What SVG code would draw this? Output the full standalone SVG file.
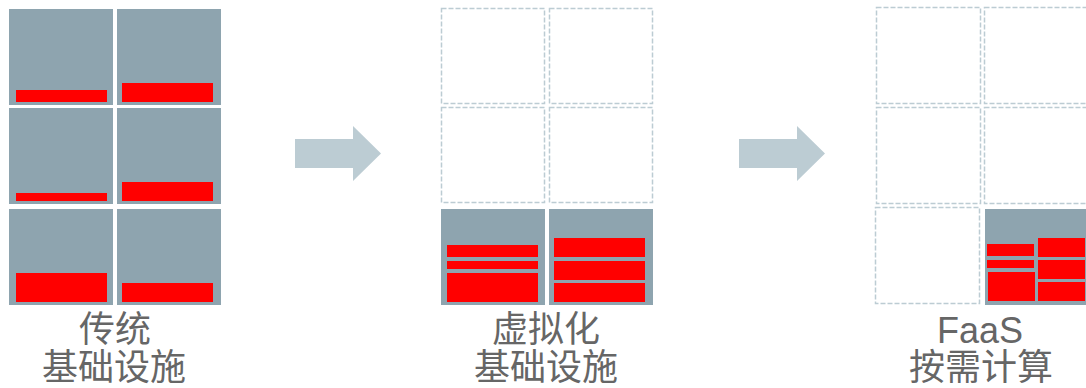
<svg xmlns="http://www.w3.org/2000/svg" width="1086" height="388" viewBox="0 0 1086 388">
<style>
.cell{fill:#8EA4AF}
.bar{fill:#FF0000}
.dash{fill:none;stroke:#BCCCD3;stroke-width:1.5;stroke-dasharray:5 2}
.arrow{fill:#BCCCD3}
.lbl{font-family:"Noto Sans CJK SC","Liberation Sans",sans-serif;font-size:36px;fill:#666666;text-anchor:middle}
.lat{font-family:"Liberation Sans",Arial,sans-serif}
</style>
<rect width="1086" height="388" fill="#ffffff"/>
<g id="traditional">
<rect class="cell" x="9" y="9" width="104" height="96"/>
<rect class="cell" x="117" y="9" width="104" height="96"/>
<rect class="cell" x="9" y="108" width="104" height="96"/>
<rect class="cell" x="117" y="108" width="104" height="96"/>
<rect class="cell" x="9" y="209" width="104" height="96"/>
<rect class="cell" x="117" y="209" width="104" height="96"/>
<rect class="bar" x="16" y="90" width="91" height="12"/>
<rect class="bar" x="122" y="83" width="91" height="19"/>
<rect class="bar" x="16" y="193" width="91" height="8"/>
<rect class="bar" x="122" y="182" width="91" height="19"/>
<rect class="bar" x="16" y="273" width="91" height="29"/>
<rect class="bar" x="122" y="283" width="91" height="19"/>
<text class="lbl" x="115" y="342">传统</text>
<text class="lbl" x="114" y="380">基础设施</text>
</g>
<g id="virtualized">
<rect class="dash" x="441.5" y="8.5" width="103" height="95"/>
<rect class="dash" x="549.5" y="8.5" width="103" height="95"/>
<rect class="dash" x="441.5" y="107.5" width="103" height="95"/>
<rect class="dash" x="549.5" y="107.5" width="103" height="95"/>
<rect class="cell" x="441" y="209" width="104" height="96"/>
<rect class="cell" x="549" y="209" width="104" height="96"/>
<rect class="bar" x="447" y="245" width="91" height="12"/>
<rect class="bar" x="447" y="261" width="91" height="8"/>
<rect class="bar" x="447" y="273" width="91" height="29"/>
<rect class="bar" x="554" y="238" width="91" height="19"/>
<rect class="bar" x="554" y="261" width="91" height="19"/>
<rect class="bar" x="554" y="283" width="91" height="19"/>
<text class="lbl" x="546" y="342">虚拟化</text>
<text class="lbl" x="546" y="380">基础设施</text>
</g>
<g id="faas">
<rect class="dash" x="876.5" y="7.5" width="104" height="96"/>
<rect class="dash" x="984.5" y="7.5" width="104" height="96"/>
<rect class="dash" x="876.5" y="107.5" width="104" height="96"/>
<rect class="dash" x="984.5" y="107.5" width="104" height="96"/>
<rect class="dash" x="875.5" y="207.5" width="104" height="96"/>
<rect class="cell" x="985" y="209" width="104" height="96"/>
<rect class="bar" x="987" y="244" width="47" height="12"/>
<rect class="bar" x="987" y="260" width="47" height="8"/>
<rect class="bar" x="988" y="272" width="47" height="29"/>
<rect class="bar" x="1038" y="238" width="47" height="19"/>
<rect class="bar" x="1038" y="260" width="47" height="19"/>
<rect class="bar" x="1038" y="282" width="47" height="19"/>
<text class="lbl lat" x="980" y="343">FaaS</text>
<text class="lbl" x="981" y="380">按需计算</text>
</g>
<g id="connectors">
<polygon class="arrow" points="295,139 353,139 353,126 381,153.5 353,181 353,168 295,168"/>
<polygon class="arrow" points="739,139 797,139 797,126 825,153.5 797,181 797,168 739,168"/>
</g>
</svg>
